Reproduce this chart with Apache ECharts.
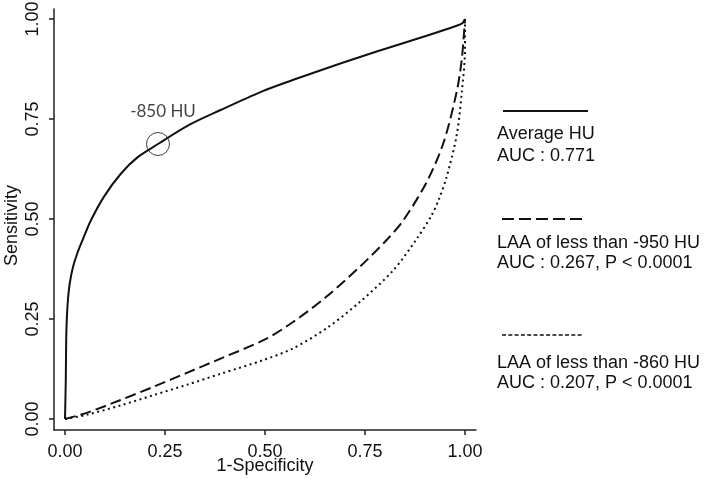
<!DOCTYPE html>
<html>
<head>
<meta charset="utf-8">
<script src="https://cdn.jsdelivr.net/npm/echarts@6/dist/echarts.min.js"></script>
<style>html,body{margin:0;padding:0;background:#fff;}#c{width:708px;height:479px;}</style>
</head>
<body>
<div id="c"></div>
<script>
// ---- data ----
const tickValues = [0, 0.25, 0.5, 0.75, 1];
const avgX = [0, 0.002, 0.003, 0.005, 0.0075, 0.012, 0.02, 0.031, 0.045, 0.064, 0.0975, 0.139, 0.181, 0.2325, 0.306, 0.389, 0.49, 0.571, 0.654, 0.7375, 0.821, 0.904, 0.979, 0.994, 1];
const avgY = [0, 0.10, 0.20, 0.26, 0.30, 0.34, 0.38, 0.415, 0.45, 0.495, 0.556, 0.6125, 0.654, 0.6875, 0.733, 0.7725, 0.818, 0.848, 0.877, 0.905, 0.932, 0.958, 0.983, 0.99, 1];
const laa950X = [0, 0.056, 0.139, 0.2225, 0.306, 0.389, 0.5, 0.571, 0.654, 0.7375, 0.804, 0.846, 0.904, 0.946, 0.979, 0.992, 1];
const laa950Y = [0, 0.016, 0.0475, 0.081, 0.116, 0.151, 0.199, 0.243, 0.306, 0.381, 0.4475, 0.497, 0.592, 0.69, 0.817, 0.9, 1];
const laa860X = [0, 0.056, 0.139, 0.2225, 0.306, 0.389, 0.495, 0.571, 0.654, 0.7375, 0.821, 0.879, 0.917, 0.935, 0.954, 0.979, 0.992, 1, 1];
const laa860Y = [0, 0.011, 0.034, 0.06, 0.086, 0.113, 0.147, 0.177, 0.227, 0.293, 0.372, 0.45, 0.51, 0.55, 0.605, 0.708, 0.817, 0.925, 1];
const cutoffPoint = [0.2325, 0.6875];
const cutoffLabel = '-850 HU';
const seriesNames = ['Average HU', 'LAA of less than -950 HU', 'LAA of less than -860 HU'];
const aucLabels = ['AUC : 0.771', 'AUC : 0.267, P < 0.0001', 'AUC : 0.207, P < 0.0001'];
const xName = '1-Specificity';
const yName = 'Sensitivity';

const zip = (xs, ys) => xs.map((x, i) => [x, ys[i]]);
const FONT = '"Liberation Sans", Arial, sans-serif';

const chart = echarts.init(document.getElementById('c'), null, {renderer: 'canvas'});

function axisCommon(name, isY) {
  return {
    type: 'value', min: -0.0275, max: isY ? 1.025 : 1.0275,
    name: name, nameLocation: 'middle', nameGap: isY ? 33 : 27, nameMoveOverlap: false,
    nameTextStyle: {fontFamily: FONT, fontSize: 18, color: '#111', padding: isY ? [0, 12, 0, 0] : 0},
    axisLine: {show: true, onZero: false, lineStyle: {color: '#222', width: 1.5}},
    axisTick: {show: true, length: 5, customValues: tickValues, lineStyle: {color: '#222', width: 1.5}},
    axisLabel: {show: true, customValues: tickValues, fontFamily: FONT, fontSize: 18, color: '#111',
      margin: isY ? 12 : 13, rotate: isY ? 90 : 0,
      formatter: v => v.toFixed(2)},
    splitLine: {show: false}
  };
}

const legendGraphics = [];
legendGraphics.push({type: 'line', shape: {x1: 503, y1: 111, x2: 588, y2: 111}, style: {stroke: '#111', lineWidth: 2}});
legendGraphics.push({type: 'text', x: 497, y: 145, style: {text: seriesNames[0] + '\n' + aucLabels[0], font: '18px ' + FONT, fill: '#111', lineHeight: 22, verticalAlign: 'middle', align: 'left'}});
legendGraphics.push({type: 'line', shape: {x1: 502, y1: 219, x2: 583, y2: 219}, style: {stroke: '#111', lineWidth: 2, lineDash: [12, 5]}});
legendGraphics.push({type: 'text', x: 497, y: 253, style: {text: seriesNames[1] + '\n' + aucLabels[1], font: '18px ' + FONT, fill: '#111', lineHeight: 20.5, verticalAlign: 'middle', align: 'left'}});
legendGraphics.push({type: 'line', shape: {x1: 502, y1: 335, x2: 583, y2: 335}, style: {stroke: '#111', lineWidth: 1.5, lineDash: [4, 2.3]}});
legendGraphics.push({type: 'text', x: 497, y: 373, style: {text: seriesNames[2] + '\n' + aucLabels[2], font: '18px ' + FONT, fill: '#111', lineHeight: 20.5, verticalAlign: 'middle', align: 'left'}});

const option = {
  backgroundColor: '#fff',
  animation: false,
  grid: {left: 54, right: 232, top: 9, bottom: 49, containLabel: false, outerBoundsMode: 'none'},
  xAxis: axisCommon(xName, false),
  yAxis: axisCommon(yName, true),
  series: [
    {name: seriesNames[0], type: 'line', data: zip(avgX, avgY), showSymbol: false, smooth: 0.3,
      lineStyle: {color: '#111', width: 2}},
    {name: seriesNames[1], type: 'line', data: zip(laa950X, laa950Y), showSymbol: false, smooth: 0.3,
      lineStyle: {color: '#111', width: 2, type: [11, 5]}},
    {name: seriesNames[2], type: 'line', data: zip(laa860X, laa860Y), showSymbol: false, smooth: 0.3,
      lineStyle: {color: '#111', width: 2, type: [2, 3.5]}},
    {name: 'cutoff', type: 'scatter', data: [cutoffPoint], symbol: 'circle', symbolSize: 23,
      itemStyle: {color: 'rgba(0,0,0,0)', borderColor: '#111', borderWidth: 1},
      label: {show: true, formatter: cutoffLabel, position: 'top', distance: 12, offset: [5, 0],
        fontFamily: 'Lato, "Open Sans", sans-serif', fontSize: 17, color: '#111'},
      z: 5}
  ],
  graphic: legendGraphics
};
chart.setOption(option);
</script>
</body>
</html>
